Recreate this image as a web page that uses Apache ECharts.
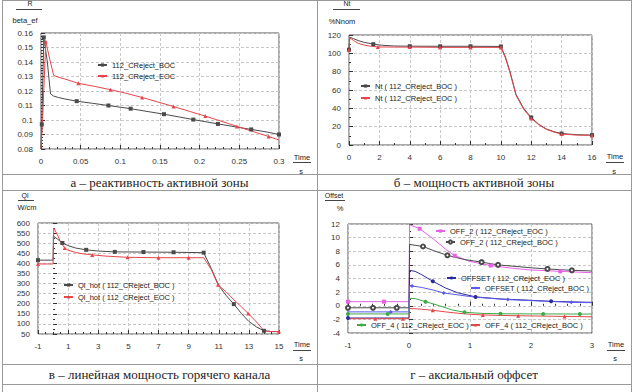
<!DOCTYPE html>
<html><head><meta charset="utf-8">
<script src="https://cdn.jsdelivr.net/npm/echarts@6/dist/echarts.min.js"></script>
<style>html,body{margin:0;padding:0;background:#fff}#c{width:636px;height:392px}</style>
</head><body><div id="c"></div><script>
// ---------- Panel a: reactivity ----------
const aT_BOC = [0, 0.001, 0.0035, 0.008, 0.012, 0.016, 0.022, 0.03, 0.045, 0.065, 0.085, 0.113, 0.135, 0.155, 0.175, 0.192, 0.223, 0.245, 0.265, 0.285, 0.3];
const aV_BOC = [0.08, 0.097, 0.157, 0.14, 0.118, 0.1165, 0.1155, 0.1145, 0.113, 0.1115, 0.110, 0.1078, 0.1058, 0.104, 0.102, 0.1003, 0.0973, 0.0953, 0.0935, 0.0917, 0.090];
const aM_BOC = [0.001, 0.0035, 0.045, 0.085, 0.113, 0.155, 0.192, 0.223, 0.265, 0.3];
const aT_EOC = [0, 0.002, 0.006, 0.011, 0.016, 0.022, 0.03, 0.047, 0.0675, 0.0875, 0.1075, 0.1275, 0.147, 0.167, 0.187, 0.207, 0.227, 0.247, 0.267, 0.287, 0.3];
const aV_EOC = [0.08, 0.1, 0.1542, 0.142, 0.1307, 0.1295, 0.1283, 0.1253, 0.1232, 0.1209, 0.1184, 0.1155, 0.1125, 0.1093, 0.106, 0.1027, 0.0992, 0.0956, 0.0921, 0.0886, 0.0862];
const aM_EOC = [0.006, 0.047, 0.0875, 0.1275, 0.167, 0.207, 0.247, 0.287];

// ---------- Panel b: core power ----------
const bT_BOC = [0, 0.05, 0.3, 0.6, 1.0, 1.6, 2.2, 3, 4, 6, 8, 10, 10.3, 10.6, 11, 11.5, 12, 12.5, 13, 13.5, 14, 15, 16];
const bV_BOC = [104, 117.5, 116, 114, 112, 110, 108.8, 108, 107.8, 107.7, 107.7, 107.5, 96, 80, 55, 40, 30, 22.5, 17.5, 14.5, 12.5, 11.2, 10.8];
const bM_BOC = [0, 1.6, 4, 6, 8, 10, 12, 14, 16];
const bT_EOC = [0, 0.05, 0.3, 0.6, 1.0, 1.4, 1.9, 3, 4, 6, 8, 10, 10.3, 10.6, 11, 11.5, 12, 12.5, 13, 13.5, 14, 15, 16];
const bV_EOC = [104, 117, 114, 111, 109, 107.8, 107, 106.8, 106.8, 106.5, 106.5, 106.5, 95, 79, 54, 39, 29, 22, 17, 14, 12, 10.8, 10.5];
const bM_EOC = [0, 1.9, 4, 6, 8, 10, 12, 14, 16];

// ---------- Panel c: hot channel linear power ----------
const cT_BOC = [-1, 0, 0.02, 0.3, 0.62, 1.0, 1.5, 2.2, 3, 4.1, 6, 8, 10, 10.5, 11, 11.5, 12, 12.5, 13, 13.5, 14, 14.5, 15];
const cV_BOC = [416, 416, 535, 520, 501, 488, 476, 467, 461, 457, 456, 455, 453, 375, 290, 240, 198, 152, 112, 85, 66, 62, 62];
const cM_BOC = [-1, 0.62, 2.2, 4.1, 6, 8, 10, 12, 14];
const cT_EOC = [-1, 0, 0.05, 0.3, 0.5, 0.77, 1.0, 1.5, 2, 2.6, 3.5, 4.95, 7, 9, 10, 10.5, 10.95, 11.5, 12, 12.5, 12.95, 13.5, 14, 14.5, 15];
const cV_EOC = [397, 397, 575, 540, 505, 476, 465, 454, 447, 442, 436, 430, 428, 428, 428, 370, 294, 258, 220, 185, 152, 110, 66, 62, 62];
const cM_EOC = [-1, 0.77, 2.6, 4.95, 7, 9, 10.95, 12.95, 15];

// ---------- Panel d: axial offset ----------
const dT_OFF2_EOC = [-1, -0.41, 0, 0.01, 0.175, 0.4, 0.6, 0.75, 1.0, 1.34, 1.7, 2.0, 2.48, 3];
const dV_OFF2_EOC = [0.6, 0.6, 0.6, 11.9, 11.3, 9.8, 8.3, 7.35, 6.5, 5.9, 5.5, 5.25, 5.05, 4.85];
const dM_OFF2_EOC = [-1, -0.41, 0.175, 0.75, 1.34, 2.48];
const dT_OFF2_BOC = [-1, -0.59, -0.2, 0, 0.01, 0.23, 0.4, 0.63, 0.9, 1.19, 1.46, 2.03, 2.27, 2.67, 3];
const dV_OFF2_BOC = [-0.3, -0.3, -0.3, -0.3, 9.0, 8.7, 8.1, 7.4, 6.8, 6.4, 6.0, 5.55, 5.4, 5.2, 5.1];
const dM_OFF2_BOC = [-1, -0.59, -0.2, 0.23, 0.63, 1.19, 1.46, 2.27, 2.67];
const dT_OFS_EOC = [-1, -0.6, 0, 0.01, 0.1, 0.2, 0.39, 0.6, 0.8, 1.09, 1.5, 2.0, 2.33, 3];
const dV_OFS_EOC = [-1.8, -1.8, -1.8, 5.2, 5.05, 4.6, 3.6, 2.6, 1.9, 1.3, 1.0, 0.8, 0.65, 0.5];
const dM_OFS_EOC = [-1, 0.39, 1.09, 2.33];
const dT_OFS_BOC = [-1, -0.3, 0, 0.01, 0.05, 0.2, 0.4, 0.57, 0.8, 1.0, 1.3, 1.62, 2.0, 2.66, 3];
const dV_OFS_BOC = [-0.9, -0.9, -0.9, 2.95, 2.9, 2.7, 2.3, 1.87, 1.6, 1.35, 1.1, 0.9, 0.75, 0.5, 0.45];
const dM_OFS_BOC = [-0.3, 0.05, 0.57, 1.62, 2.66];
const dT_OFF4_EOC = [-1, -0.35, 0, 0.01, 0.1, 0.27, 0.5, 0.7, 0.91, 1.2, 1.5, 2.2, 2.8, 3];
const dV_OFF4_EOC = [-1.2, -1.2, -1.2, 1.1, 1.05, 0.6, 0.0, -0.6, -0.96, -1.12, -1.18, -1.2, -1.22, -1.22];
const dM_OFF4_EOC = [-1, -0.35, 0.27, 0.91, 1.5, 2.2, 2.8];
const dT_OFF4_BOC = [-1, -0.55, -0.1, 0, 0.01, 0.2, 0.39, 0.6, 0.8, 1.0, 1.21, 1.5, 1.79, 2.2, 2.55, 3];
const dV_OFF4_BOC = [-1.9, -1.9, -1.9, -1.9, -0.4, -0.5, -0.67, -0.9, -1.1, -1.25, -1.35, -1.42, -1.47, -1.52, -1.57, -1.62];
const dM_OFF4_BOC = [-0.55, -0.1, 0.39, 1.21, 1.79, 2.55];

const FONT = 'Liberation Sans, Arial, sans-serif';
const SERIF = 'Liberation Serif, Times New Roman, serif';
const GRAY = '#4a4a4a', RED = '#e8454a', PINK = '#e860e8', NAVY = '#2b2b9c', BLUE = '#5a5aee', GREEN = '#40a848', RED2 = '#e04848';

function ser(name, idx, T, V, M, color, symbol) {
  const empty = symbol.indexOf('empty') === 0;
  return {
    name, type: 'line', xAxisIndex: idx, yAxisIndex: idx,
    symbol, symbolSize: empty ? 4 : 4, showSymbol: true, showAllSymbol: true,
    lineStyle: { width: 1, color },
    itemStyle: { color, borderColor: color, borderWidth: empty ? 1 : 0 },
    data: T.map((t, i) => ({ value: [t, V[i]], symbol: M.includes(t) ? symbol : 'none' })),
    animation: false, z: 3
  };
}
function axisBase(idx, min, max, interval, minorN) {
  return {
    type: 'value', gridIndex: idx, min, max, interval,
    axisLine: { show: false },
    axisTick: { show: true, inside: true, length: 4, lineStyle: { color: '#333' } },
    minorTick: { show: true, splitNumber: minorN, length: 2, lineStyle: { color: '#333' } },
    splitLine: { show: true, lineStyle: { color: '#c8c8c8', type: [3, 2] } },
    axisLabel: { fontSize: 8, color: '#333', fontFamily: FONT, margin: 8 }
  };
}
function leg(name, left, cy) {
  return {
    data: [name], left, top: cy - 5, padding: 0, itemWidth: 9, itemHeight: 4, itemGap: 0,
    textStyle: { fontSize: 7.5, color: '#222', fontFamily: FONT }, selectedMode: false
  };
}
function txt(x, y, s, size, fam, align) {
  return { type: 'text', x, y, silent: true,
    style: { text: s, fontSize: size, fontFamily: fam, fill: '#222', align: align || 'center', verticalAlign: 'middle' } };
}
function ln(x1, y1, x2, y2, c) {
  return { type: 'line', silent: true, shape: { x1, y1, x2, y2 }, style: { stroke: c || '#9a9a9a', lineWidth: 1 } };
}

const grids = [
  { left: 41, top: 33, width: 238, height: 116 },
  { left: 349, top: 35, width: 243, height: 110 },
  { left: 38, top: 223, width: 241, height: 111 },
  { left: 348, top: 224, width: 244, height: 109 }
].map(g => Object.assign(g, { show: true, borderColor: '#555', borderWidth: 1, backgroundColor: 'transparent' }));

const series = [
  ser('112_CReject_BOC', 0, aT_BOC, aV_BOC, aM_BOC, GRAY, 'rect'),
  ser('112_CReject_EOC', 0, aT_EOC, aV_EOC, aM_EOC, RED, 'triangle'),
  ser('Nt ( 112_CReject_BOC )', 1, bT_BOC, bV_BOC, bM_BOC, GRAY, 'rect'),
  ser('Nt ( 112_CReject_EOC )', 1, bT_EOC, bV_EOC, bM_EOC, RED, 'triangle'),
  ser('Ql_hot ( 112_CReject_BOC )', 2, cT_BOC, cV_BOC, cM_BOC, GRAY, 'rect'),
  ser('Ql_hot ( 112_CReject_EOC )', 2, cT_EOC, cV_EOC, cM_EOC, RED, 'triangle'),
  ser('OFF_2 ( 112_CReject_EOC )', 3, dT_OFF2_EOC, dV_OFF2_EOC, dM_OFF2_EOC, PINK, 'rect'),
  ser('OFF_2 ( 112_CReject_BOC )', 3, dT_OFF2_BOC, dV_OFF2_BOC, dM_OFF2_BOC, GRAY, 'emptyCircle'),
  ser('OFFSET ( 112_CReject_EOC )', 3, dT_OFS_EOC, dV_OFS_EOC, dM_OFS_EOC, NAVY, 'circle'),
  ser('OFFSET ( 112_CReject_BOC )', 3, dT_OFS_BOC, dV_OFS_BOC, dM_OFS_BOC, BLUE, 'diamond'),
  ser('OFF_4 ( 112_CReject_EOC )', 3, dT_OFF4_EOC, dV_OFF4_EOC, dM_OFF4_EOC, GREEN, 'circle'),
  ser('OFF_4 ( 112_CReject_BOC )', 3, dT_OFF4_BOC, dV_OFF4_BOC, dM_OFF4_BOC, RED2, 'triangle')
];

const legends = [
  leg('112_CReject_BOC', 97, 66), leg('112_CReject_EOC', 97, 77),
  leg('Nt ( 112_CReject_BOC )', 360, 87), leg('Nt ( 112_CReject_EOC )', 360, 99),
  leg('Ql_hot ( 112_CReject_BOC )', 63, 286), leg('Ql_hot ( 112_CReject_EOC )', 63, 298),
  leg('OFF_2 ( 112_CReject_EOC )', 435, 232), leg('OFF_2 ( 112_CReject_BOC )', 445, 243),
  leg('OFFSET ( 112_CReject_EOC )', 446, 279), leg('OFFSET ( 112_CReject_BOC )', 470, 289),
  leg('OFF_4 ( 112_CReject_EOC )', 356, 326), leg('OFF_4 ( 112_CReject_BOC )', 470, 326)
];

const graphics = [
  ln(2.5, 0, 2.5, 392), ln(631.5, 0, 631.5, 392), ln(317.5, 0, 317.5, 392),
  ln(2, 0.5, 632, 0.5), ln(2, 174.5, 632, 174.5), ln(2, 190.5, 632, 190.5),
  ln(2, 364.5, 632, 364.5), ln(2, 384.5, 632, 384.5),
  txt(159.5, 182.5, 'а – реактивность активной зоны', 13, SERIF),
  txt(474, 182.5, 'б – мощность активной зоны', 13, SERIF),
  txt(159.5, 374, 'в – линейная мощность горячего канала', 13, SERIF),
  txt(474, 374, 'г – аксиальный оффсет', 13, SERIF),
  txt(30, 3, 'R', 7, FONT), ln(16, 9.5, 42, 9.5, '#444'), txt(25, 20, 'beta_ef', 7.5, FONT),
  txt(347, 3, 'Nt', 7, FONT), ln(333, 9.5, 360, 9.5, '#444'), txt(342, 21, '%Nnom', 7.5, FONT),
  txt(25, 195, 'Ql', 7, FONT), ln(18, 200.5, 34, 200.5, '#444'), txt(27, 207, 'W/cm', 7.5, FONT),
  txt(334, 195, 'Offset', 7, FONT), ln(325, 200.5, 345, 200.5, '#444'), txt(340, 208, '%', 7.5, FONT),
  txt(302, 157, 'Time', 7.5, FONT), ln(293, 162.5, 311, 162.5, '#444'), txt(301, 171, 's', 7.5, FONT),
  txt(615, 156, 'Time', 7.5, FONT), ln(606, 162.5, 624, 162.5, '#444'), txt(614, 171, 's', 7.5, FONT),
  txt(302, 344, 'Time', 7.5, FONT), ln(293, 350.5, 311, 350.5, '#444'), txt(301, 358, 's', 7.5, FONT),
  txt(616, 344, 'Time', 7.5, FONT), ln(607, 350.5, 625, 350.5, '#444'), txt(615, 358, 's', 7.5, FONT)
];

const chart = echarts.init(document.getElementById('c'), null, { renderer: 'svg' });
chart.setOption({
  animation: false,
  backgroundColor: '#fff',
  grid: grids,
  xAxis: [axisBase(0, 0, 0.3, 0.05, 5), axisBase(1, 0, 16, 2, 2), axisBase(2, -1, 15, 2, 4), axisBase(3, -1, 3, 1, 5)],
  yAxis: [axisBase(0, 0.08, 0.16, 0.01, 5), axisBase(1, 0, 120, 20, 2), axisBase(2, 50, 600, 50, 2), axisBase(3, -4, 12, 2, 2)],
  legend: legends,
  series,
  graphic: graphics
});
</script></body></html>
